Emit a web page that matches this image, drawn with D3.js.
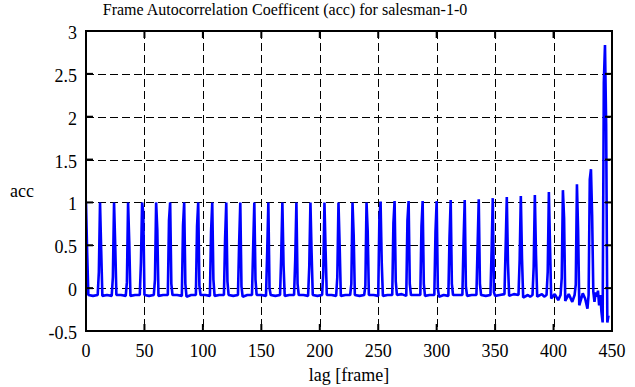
<!DOCTYPE html>
<html>
<head>
<meta charset="utf-8">
<script src="https://cdn.jsdelivr.net/npm/d3@7"></script>
<style>
  body { margin: 0; background: #fff; }
  svg text { font-family: "Liberation Serif", "DejaVu Serif", "Noto Serif", "Times New Roman", Times, serif; fill: #000; }
</style>
</head>
<body>
<div id="chart"></div>
<script>
// frame autocorrelation of salesman-1-0

// spikes every 12 frames (GOP): lag, value one frame before, peak, value one frame after
const peakLag = [0, 12, 24, 36, 48, 60, 72, 84, 96, 108, 120, 132, 144, 156, 168, 180, 192, 204, 216,
  228, 240, 252, 264, 276, 288, 300, 312, 324, 336, 348, 360, 372, 384, 396, 408, 420, 432, 444];
const peakAcc = [1.0, 1.0, 1.0, 1.0, 1.0, 1.0, 1.0, 1.0, 1.0, 1.0, 1.0, 1.0, 1.0, 1.0, 1.0, 1.0, 1.0, 1.0, 1.0,
  1.0, 1.0, 1.01, 1.015, 1.015, 1.015, 1.015, 1.027, 1.027, 1.038, 1.05, 1.062, 1.074, 1.085, 1.12, 1.143, 1.213, 1.388, 2.835];
const preAcc = [null, 0.19, 0.13, 0.07, 0.30, 0.10, 0.79, 0.73, 0.72, 0.66, 0.58, 0.52, 0.47, 0.41, 0.37, 0.33, 0.25, 0.19, 0.13,
  0.05, 0.03, 0.82, 0.76, 0.79, 0.72, 0.66, 0.60, 0.54, 0.48, 0.44, 0.47, 0.33, 0.25, 0.19, 0.12, 0.04, 1.27, 2.40];
const postAcc = [0.41, 0.44, 0.50, 0.54, 0.88, 0.68, 0.05, 0.05, 0.03, 0.10, 0.08, 0.02, 0.10, 0.0, 0.27, 0.05, 0.41, 0.43, 0.50,
  0.62, 0.66, 0.30, 0.08, 0.05, 0.05, 0.0, 0.05, 0.02, 0.05, -0.05, 0.29, 0.35, 0.38, 0.47, 0.82, 0.68, 0.85, 1.91];

// floor between the spikes [lag, acc]
const baseline = [
  [2, -0.08], [6, -0.09], [10, -0.08], [14, -0.09], [18, -0.08], [22, -0.09],
  [26, -0.08], [30, -0.08], [34, -0.09], [38, -0.09], [42, -0.08], [46, -0.08],
  [50, -0.08], [54, -0.09], [58, -0.08], [62, -0.09], [66, -0.08], [70, -0.08],
  [74, -0.08], [78, -0.08], [82, -0.09], [86, -0.1], [90, -0.08], [94, -0.08],
  [98, -0.08], [102, -0.08], [106, -0.09], [110, -0.09], [114, -0.08], [118, -0.08],
  [122, -0.08], [126, -0.09], [130, -0.08], [134, -0.1], [138, -0.08], [142, -0.08],
  [146, -0.08], [150, -0.08], [154, -0.09], [158, -0.08], [162, -0.09], [166, -0.08],
  [170, -0.09], [174, -0.08], [178, -0.08], [182, -0.08], [186, -0.08], [190, -0.09],
  [194, -0.08], [198, -0.09], [202, -0.08], [206, -0.08], [210, -0.08], [214, -0.09],
  [218, -0.09], [222, -0.08], [226, -0.08], [230, -0.08], [234, -0.09], [238, -0.08],
  [242, -0.08], [246, -0.08], [250, -0.09], [254, -0.09], [258, -0.08], [262, -0.08],
  [266, -0.08], [270, -0.07], [274, -0.09], [278, -0.08], [282, -0.08], [286, -0.08],
  [290, -0.09], [294, -0.08], [298, -0.08], [302, -0.1], [306, -0.08], [310, -0.09],
  [314, -0.08], [318, -0.08], [322, -0.08], [326, -0.09], [330, -0.08], [334, -0.08],
  [338, -0.08], [342, -0.09], [346, -0.08], [350, -0.09], [354, -0.08], [358, -0.07],
  [362, -0.09], [366, -0.07], [370, -0.08], [374, -0.11], [378, -0.08], [380, -0.1], [382, -0.08],
  [386, -0.1], [390, -0.07], [392, -0.1], [394, -0.08], [398, -0.12], [401, -0.07], [404, -0.14], [406, -0.08],
  [410, -0.15], [413, -0.07], [416, -0.16], [418, -0.08], [422, -0.2], [425, -0.06], [427, -0.12], [429, -0.24], [430, -0.08],
  [434, -0.04], [435, -0.16], [436, -0.05], [437, -0.1], [438, -0.03], [439, -0.2], [440, -0.08], [441, -0.28], [442, -0.4],
  [446, -0.4], [447, -0.32]
];

const xTicks = [0, 50, 100, 150, 200, 250, 300, 350, 400, 450];
const yTicks = [-0.5, 0, 0.5, 1, 1.5, 2, 2.5, 3];
const yTickLabels = ["-0.5", "0", "0.5", "1", "1.5", "2", "2.5", "3"];

const W = 635, H = 387;
const plot = { left: 86, right: 612, top: 31, bottom: 331 };
const serif = '"Liberation Serif", "DejaVu Serif", "Noto Serif", "Times New Roman", Times, serif';

const svg = d3.select("#chart").append("svg")
  .attr("width", W)
  .attr("height", H)
  .attr("font-family", serif);

const x = d3.scaleLinear().domain([0, 450]).range([plot.left, plot.right]);
const y = d3.scaleLinear().domain([-0.5, 3]).range([plot.bottom, plot.top]);

// grid (dashed), skip the ones lying on the border
const grid = svg.append("g").attr("stroke", "#000").attr("stroke-width", 1).attr("stroke-dasharray", "8,4");
grid.selectAll("line.gx")
  .data(xTicks.filter((d) => d > 0 && d < 450))
  .enter().append("line")
  .attr("x1", (d) => Math.round(x(d)) + 0.5).attr("x2", (d) => Math.round(x(d)) + 0.5)
  .attr("y1", plot.top).attr("y2", plot.bottom);
grid.selectAll("line.gy")
  .data(yTicks.filter((d) => d > -0.5 && d < 3))
  .enter().append("line")
  .attr("y1", (d) => Math.round(y(d)) + 0.5).attr("y2", (d) => Math.round(y(d)) + 0.5)
  .attr("x1", plot.left).attr("x2", plot.right);

// the series
const points = [];
peakLag.forEach((lag, i) => {
  if (preAcc[i] !== null) points.push([lag - 1, preAcc[i]]);
  points.push([lag, peakAcc[i]]);
  points.push([lag + 1, postAcc[i]]);
});
baseline.forEach((p) => points.push(p));
points.sort((a, b) => a[0] - b[0]);

svg.append("clipPath").attr("id", "clip")
  .append("rect")
  .attr("x", plot.left).attr("y", plot.top)
  .attr("width", plot.right - plot.left).attr("height", plot.bottom - plot.top);

const line = d3.line().x((d) => x(d[0])).y((d) => y(d[1]));
svg.append("path")
  .datum(points)
  .attr("clip-path", "url(#clip)")
  .attr("fill", "none")
  .attr("stroke", "#0000ff")
  .attr("stroke-width", 2.6)
  .attr("stroke-linejoin", "bevel")
  .attr("d", line);

// inward ticks on all four sides
const ticks = svg.append("g").attr("stroke", "#000").attr("stroke-width", 2);
xTicks.forEach((t) => {
  ticks.append("line").attr("x1", x(t)).attr("x2", x(t)).attr("y1", plot.bottom).attr("y2", plot.bottom - 7);
  ticks.append("line").attr("x1", x(t)).attr("x2", x(t)).attr("y1", plot.top).attr("y2", plot.top + 7);
});
yTicks.forEach((t) => {
  ticks.append("line").attr("y1", y(t)).attr("y2", y(t)).attr("x1", plot.left).attr("x2", plot.left + 7);
  ticks.append("line").attr("y1", y(t)).attr("y2", y(t)).attr("x1", plot.right).attr("x2", plot.right - 7);
});

// border
svg.append("rect")
  .attr("x", plot.left).attr("y", plot.top)
  .attr("width", plot.right - plot.left).attr("height", plot.bottom - plot.top)
  .attr("fill", "none").attr("stroke", "#000").attr("stroke-width", 2);

// tick labels
svg.append("g").selectAll("text")
  .data(xTicks)
  .enter().append("text")
  .attr("x", (d) => x(d))
  .attr("y", 357)
  .attr("text-anchor", "middle")
  .style("font-size", "18px")
  .text((d) => d);

svg.append("g").selectAll("text")
  .data(yTicks)
  .enter().append("text")
  .attr("x", 77)
  .attr("y", (d) => y(d) + 8)
  .attr("text-anchor", "end")
  .style("font-size", "18px")
  .text((d, i) => yTickLabels[i]);

// titles
svg.append("text")
  .attr("x", 285).attr("y", 15)
  .attr("text-anchor", "middle")
  .style("font-size", "16px")
  .text("Frame Autocorrelation Coefficent (acc) for salesman-1-0");

svg.append("text")
  .attr("x", 349).attr("y", 381)
  .attr("text-anchor", "middle")
  .style("font-size", "18px")
  .text("lag [frame]");

svg.append("text")
  .attr("x", 22).attr("y", 197)
  .attr("text-anchor", "middle")
  .style("font-size", "18px")
  .text("acc");
</script>
</body>
</html>
